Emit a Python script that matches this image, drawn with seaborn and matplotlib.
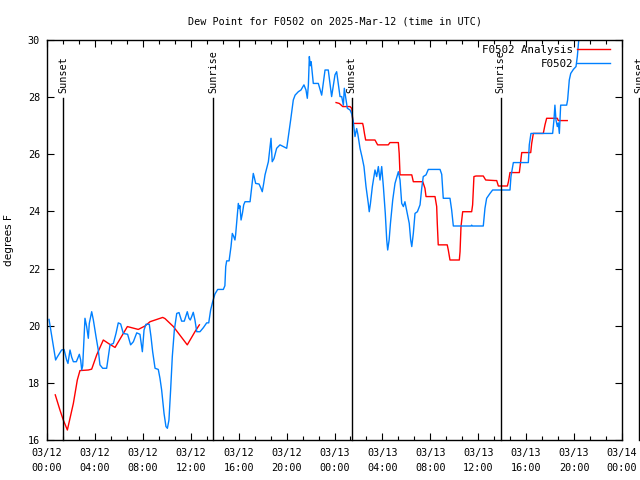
import numpy as np
import pandas as pd
import seaborn as sns
import matplotlib.pyplot as plt
from matplotlib.ticker import FixedLocator, AutoMinorLocator, MultipleLocator

# ===== Data (hours since 03/12 00:00 UTC) =====

obs_hours = [0.17, 0.72, 0.85, 1.22, 1.42, 1.64, 1.75, 1.92, 2.06, 2.2, 2.45, 2.61, 2.70, 2.81, 2.9, 2.98,
             3.17, 3.31, 3.45, 3.53, 3.73, 3.87, 4.09, 4.28, 4.42, 4.65, 4.98, 5.12, 5.26, 5.54, 5.76, 5.95,
             6.15, 6.37, 6.73, 6.98, 7.21, 7.49, 7.76, 7.96, 8.1, 8.26, 8.54, 8.68, 8.82, 9.02, 9.29, 9.43,
             9.57, 9.77, 9.93, 10.05, 10.18, 10.32, 10.46, 10.63, 10.83, 11.02, 11.24, 11.46, 11.71, 11.85,
             11.96, 12.08, 12.21, 12.35, 12.5, 12.77, 13.05, 13.33, 13.5, 13.66, 13.83, 14.02, 14.25, 14.72,
             14.85, 14.92, 15.0, 15.2, 15.36, 15.47, 15.58, 15.69, 15.75, 15.84, 15.97, 16.05, 16.1, 16.2,
             16.32, 16.42, 16.53, 16.95, 17.09, 17.22, 17.3, 17.42, 17.7, 17.86, 17.97, 18.09, 18.2, 18.34,
             18.48, 18.56, 18.7, 18.8, 18.95, 19.17, 19.45, 20.01, 20.15, 20.34, 20.56, 20.71, 20.98, 21.2,
             21.45, 21.62, 21.73, 21.82, 21.9, 21.98, 22.05, 22.23, 22.65, 22.93, 23.21, 23.48, 23.76, 24.04,
             24.18, 24.46, 24.6, 24.74, 24.82, 25.07, 25.3, 25.45, 25.57, 25.71, 25.85, 25.95, 26.13, 26.3,
             26.46, 26.63, 26.82, 26.9, 27.0, 27.16, 27.38, 27.52, 27.66, 27.8, 27.94, 28.08, 28.24, 28.36,
             28.44, 28.56, 28.67, 28.86, 29.05, 29.25, 29.33, 29.47, 29.61, 29.75, 29.88, 30.07, 30.24, 30.36,
             30.45, 30.58, 30.72, 30.92, 31.14, 31.28, 31.41, 31.64, 31.83, 32.81, 32.95, 33.08, 33.64, 33.78,
             33.92, 35.4, 35.45, 35.5, 36.42, 36.56, 36.7, 36.98, 37.2, 38.65, 38.73, 38.93, 40.18, 40.26,
             40.4, 42.21, 42.32, 42.4, 42.49, 42.6, 42.68, 42.77, 42.88, 43.38, 43.46, 43.6, 43.72, 43.94,
             44.16, 44.27, 44.35, 44.45]
obs_dewpt = [20.22, 18.8, 18.9, 19.15, 19.17, 18.8, 18.68, 19.15, 18.9, 18.74, 18.74, 18.9, 19.0, 18.8, 18.45, 18.6,
             20.26, 19.97, 19.56, 20.08, 20.49, 20.2, 19.62, 19.15, 18.63, 18.51, 18.51, 18.92, 19.33, 19.38, 19.73, 20.1,
             20.06, 19.73, 19.7, 19.33, 19.44, 19.75, 19.7, 19.09, 19.85, 20.05, 20.05, 19.62, 19.09, 18.51, 18.47, 18.16,
             17.75, 16.93, 16.47, 16.41, 16.7, 17.75, 18.92, 19.85, 20.43, 20.46, 20.16, 20.16, 20.49, 20.26,
             20.2, 20.32, 20.47, 20.2, 19.79, 19.79, 19.93, 20.1, 20.1, 20.55, 20.84, 21.11, 21.27, 21.27,
             21.4, 22.07, 22.27, 22.27, 22.77, 23.23, 23.13, 23.0, 23.2, 23.64, 24.28, 24.1, 24.2, 23.7,
             23.95, 24.23, 24.34, 24.34, 24.87, 25.33, 25.2, 24.98, 24.96, 24.81, 24.69, 24.98, 25.28, 25.51,
             25.74, 26.03, 26.56, 25.74, 25.85, 26.21, 26.33, 26.21, 26.62, 27.2, 27.9, 28.07, 28.19, 28.25,
             28.43, 28.25, 27.96, 28.43, 29.42, 29.1, 29.24, 28.48, 28.48, 28.07, 28.95, 28.95, 28.02, 28.78,
             28.89, 28.02, 28.02, 27.72, 28.31, 27.61, 27.55, 27.4, 27.14, 26.62, 26.9, 26.7, 26.21, 25.9,
             25.57, 24.87, 24.28, 23.99, 24.28, 24.87, 25.45, 25.22, 25.57, 25.1, 25.57, 24.87, 23.93, 23.0,
             22.65, 23.0, 23.58, 24.4, 24.98, 25.28, 25.39, 25.1, 24.28, 24.17, 24.34, 23.93, 23.58, 23.0,
             22.77, 23.23, 23.93, 23.99, 24.23, 24.81, 25.22, 25.28, 25.47, 25.47, 25.3, 24.46, 24.46, 24.05,
             23.49, 23.49, 23.52, 23.49, 23.49, 24.11, 24.46, 24.63, 24.75, 24.75, 25.22, 25.71, 25.71, 26.33,
             26.73, 26.73, 27.2, 27.72, 27.2, 26.97, 27.1, 26.73, 27.72, 27.72, 27.9, 28.6, 28.83, 28.97,
             29.07, 29.42, 29.83, 30.3]

# analysis series has a gap between the two segments
anl_hours_1 = [0.69, 1.08, 1.36, 1.7, 2.2, 2.53, 2.75, 3.45, 3.73, 4.15, 4.7, 5.2, 5.68, 6.71, 7.62, 8.18,
               8.6, 9.66, 9.85, 10.55, 11.71, 12.35, 12.72]
anl_dewpt_1 = [17.58, 17.05, 16.7, 16.35, 17.28, 18.1, 18.43, 18.45, 18.48, 18.98, 19.5, 19.36, 19.24, 19.97, 19.87, 19.99,
               20.14, 20.29, 20.25, 19.97, 19.33, 19.79, 20.03]
anl_hours_2 = [24.13, 24.4, 24.69, 25.3, 25.45, 25.52, 25.57, 26.35, 26.41, 26.5, 26.6, 27.38, 27.6, 28.49, 28.63,
               29.33, 29.4, 29.47, 30.45, 30.58, 31.37, 31.55, 31.64, 32.39, 32.53, 32.58, 32.66, 33.41, 33.5,
               33.64, 34.42, 34.48, 34.56, 34.70, 35.45, 35.53, 35.64, 35.81, 36.42, 36.62, 37.4, 37.54, 37.68,
               38.43, 38.52, 38.65, 39.43, 39.54, 39.63, 40.38, 40.46, 40.6, 41.43, 41.57, 41.71, 42.6, 42.68,
               43.43]
anl_dewpt_2 = [27.81, 27.78, 27.67, 27.67, 27.6, 27.2, 27.08, 27.08, 26.97, 26.73, 26.5, 26.5, 26.33, 26.33, 26.41,
               26.41, 26.03, 25.28, 25.28, 25.04, 25.04, 24.81, 24.52, 24.52, 24.17, 23.58, 22.83, 22.83, 22.65,
               22.3, 22.3, 22.59, 23.47, 23.99, 23.99, 24.23, 25.22, 25.24, 25.24, 25.1, 25.08, 25.08, 24.89,
               24.89, 25.04, 25.36, 25.36, 25.74, 26.06, 26.06, 26.38, 26.73, 26.73, 27.03, 27.26, 27.26, 27.18,
               27.18]

sun_events = ['Sunset', 'Sunrise', 'Sunset', 'Sunrise', 'Sunset']
sun_hours = [1.36, 13.89, 25.43, 37.87, 49.44]

tick_hours = [0, 4, 8, 12, 16, 20, 24, 28, 32, 36, 40, 44, 48]
tick_labels = ['03/12\n00:00', '03/12\n04:00', '03/12\n08:00', '03/12\n12:00', '03/12\n16:00', '03/12\n20:00',
               '03/13\n00:00', '03/13\n04:00', '03/13\n08:00', '03/13\n12:00', '03/13\n16:00', '03/13\n20:00',
               '03/14\n00:00']

# ===== Figure =====

mono = 'DejaVu Sans Mono'
fsize = 7.3

fig = plt.figure(figsize=(6.4, 4.8), dpi=100)
ax = fig.add_axes([47 / 640, 40 / 480, 575 / 640, 400 / 480])

obs = pd.DataFrame({'hour': obs_hours, 'dewpt': obs_dewpt})
anl1 = pd.DataFrame({'hour': anl_hours_1, 'dewpt': anl_dewpt_1})
anl2 = pd.DataFrame({'hour': anl_hours_2, 'dewpt': anl_dewpt_2})

sns.lineplot(data=anl1, x='hour', y='dewpt', ax=ax, color='#ff0000', lw=1.0, sort=False, estimator=None,
             label='F0502 Analysis')
sns.lineplot(data=anl2, x='hour', y='dewpt', ax=ax, color='#ff0000', lw=1.0, sort=False, estimator=None)
sns.lineplot(data=obs, x='hour', y='dewpt', ax=ax, color='#0080ff', lw=1.0, sort=False, estimator=None,
             label='F0502')

# sunrise / sunset markers
trans = ax.get_xaxis_transform()
for name, h in zip(sun_events, sun_hours):
    ax.plot([h, h], [0, 0.855], transform=trans, color='black', lw=1.0, clip_on=False)
    ax.text(h, 0.868, name, transform=trans, rotation=90, ha='center', va='bottom',
            family=mono, fontsize=fsize, clip_on=False)

ax.set_xlim(0, 48)
ax.set_ylim(16, 30)
ax.xaxis.set_major_locator(FixedLocator(tick_hours))
ax.set_xticklabels(tick_labels, family=mono, fontsize=fsize, linespacing=1.55)
ax.xaxis.set_minor_locator(AutoMinorLocator(3))
ax.yaxis.set_major_locator(MultipleLocator(2))
for lbl in ax.get_yticklabels():
    lbl.set_family(mono)
    lbl.set_fontsize(fsize)
ax.tick_params(which='both', direction='in', top=True, right=True, width=0.8)
ax.tick_params(which='major', length=5)
ax.tick_params(which='minor', length=3)
ax.tick_params(axis='x', pad=6)
ax.tick_params(axis='y', pad=5)
for sp in ax.spines.values():
    sp.set_linewidth(1.0)

ax.set_xlabel('')
ax.set_ylabel('degrees F', fontsize=fsize + 0.3)
ax.yaxis.set_label_coords(-0.057, 0.5)
ax.set_title('Dew Point for F0502 on 2025-Mar-12 (time in UTC)', family=mono, fontsize=fsize, pad=11)

ax.legend(loc='upper right', bbox_to_anchor=(0.979, 0.988), frameon=False, markerfirst=False,
          prop={'family': mono, 'size': fsize + 0.5}, handlelength=3.0, handletextpad=0.4,
          labelspacing=0.35, borderpad=0, borderaxespad=0)

fig.savefig('out.png', dpi=100)
